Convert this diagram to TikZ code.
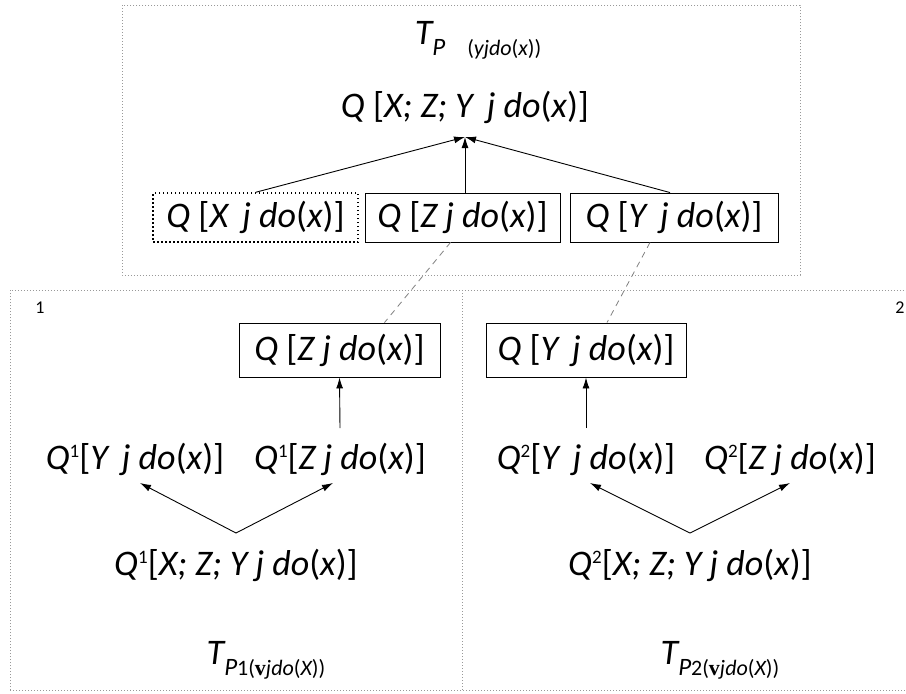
\documentclass[tikz,border=0pt]{standalone}
\usepackage{fontspec}
\setmainfont{Carlito}
\newfontfamily\serifbold{Liberation Serif}
\usetikzlibrary{arrows.meta}
\newcommand{\qfont}{\fontsize{36}{40}\selectfont\itshape}
\newcommand{\supone}[1]{\raisebox{0.32em}{\fontsize{19}{20}\selectfont\upshape #1}}
\newcommand{\ob}{{\upshape[}}
\newcommand{\cb}{{\upshape]}}
\newcommand{\op}{{\upshape(}}
\newcommand{\cp}{{\upshape)}}
\tikzset{
  frame/.style={draw=gray!80, line width=0.8pt, dash pattern=on 0.8pt off 2.2pt},
  qbox/.style={draw=black, line width=0.9pt, minimum height=49pt, inner sep=0pt, font=\qfont},
  qtxt/.style={inner sep=0pt, font=\qfont},
  arr/.style={-{Latex[length=11pt,width=7pt]}, line width=0.9pt},
  link/.style={draw=gray, line width=0.8pt, dash pattern=on 6pt off 5pt},
}
\begin{document}
\begin{tikzpicture}[x=1pt,y=-1pt]
\useasboundingbox (0,0) rectangle (906,694);
% frames
\draw[frame] (122,5) rectangle (800,275);
\draw[frame] (10,690) -- (10,290) -- (906,290);
\draw[frame] (10,690) -- (906,690);
\draw[frame] (462,290) -- (462,690);
\node[inner sep=0pt, font=\fontsize{18}{19}\selectfont] (n1) at (40,308) {1};
\node[inner sep=0pt, font=\fontsize{18}{19}\selectfont] (n2) at (900,308) {2};
% top panel
\node[inner sep=0pt, font=\qfont] (tp) at (478,40) {T\raisebox{-0.3em}{\fontsize{25}{27}\selectfont P\hspace{22pt}\fontsize{22}{24}\selectfont \op yjdo\op x\cp\cp}};
\node[qtxt] (top) at (465,107) {Q \ob X; Z; Y\, j do\op x\cp\cb};
\coordinate (tip) at (465,137);
\node[qbox, minimum width=205pt, dash pattern=on 1.5pt off 2.5pt, line width=1.6pt] (bx) at (255.5,217.5) {Q \ob X\, j do\op x\cp\cb};
\node[qbox, minimum width=195pt] (bz) at (462.5,217.5) {Q \ob Z j do\op x\cp\cb};
\node[qbox, minimum width=208pt] (by) at (674,217.5) {Q \ob Y\, j do\op x\cp\cb};
\draw[arr] ([xshift=0.5pt]bx.north) -- (tip);
\draw[arr] ([xshift=2.5pt]bz.north) -- (tip);
\draw[arr] ([xshift=-4pt]by.north) -- (tip);
% left lower panel
\node[qbox, minimum width=201pt, minimum height=54pt] (lz) at (339.5,350) {Q \ob Z j do\op x\cp\cb};
\node[qtxt] (l1y) at (135,459) {Q\supone{1}\ob Y\, j do\op x\cp\cb};
\node[qtxt] (l1z) at (340,459) {Q\supone{1}\ob Z j do\op x\cp\cb};
\node[qtxt] (l1x) at (236,565) {Q\supone{1}\ob X; Z; Y j do\op x\cp\cb};
\node[inner sep=0pt, font=\qfont] (tl) at (266,660) {T\raisebox{-0.3em}{\fontsize{25}{27}\selectfont P\fontsize{22}{24}\selectfont\upshape 1\op{\serifbold\bfseries\upshape v}\itshape jdo\op X\cp\cp}};
\coordinate (al) at (236,533);
\coordinate (bl) at (340,428);
\draw[arr] (bl) -- (lz.south);
\draw[arr] (al) -- (140,483);
\draw[arr] (al) -- (333,483);
% right lower panel
\node[qbox, minimum width=200pt, minimum height=54pt] (ry) at (586,350) {Q \ob Y\, j do\op x\cp\cb};
\node[qtxt] (r2y) at (586,459) {Q\supone{2}\ob Y\, j do\op x\cp\cb};
\node[qtxt] (r2z) at (790,459) {Q\supone{2}\ob Z j do\op x\cp\cb};
\node[qtxt] (r2x) at (690,565) {Q\supone{2}\ob X; Z; Y j do\op x\cp\cb};
\node[inner sep=0pt, font=\qfont] (tr) at (720,660) {T\raisebox{-0.3em}{\fontsize{25}{27}\selectfont P\fontsize{22}{24}\selectfont\upshape 2\op{\serifbold\bfseries\upshape v}\itshape jdo\op X\cp\cp}};
\coordinate (ar) at (690,533);
\coordinate (br) at (586,428);
\draw[arr] (br) -- (ry.south);
\draw[arr] (ar) -- (590,483);
\draw[arr] (ar) -- (790,483);
% links
\draw[link] ([xshift=-12pt]bz.south) -- ([xshift=45pt]lz.north);
\draw[link] ([xshift=-24pt]by.south) -- ([xshift=21pt]ry.north);
\end{tikzpicture}
\end{document}
